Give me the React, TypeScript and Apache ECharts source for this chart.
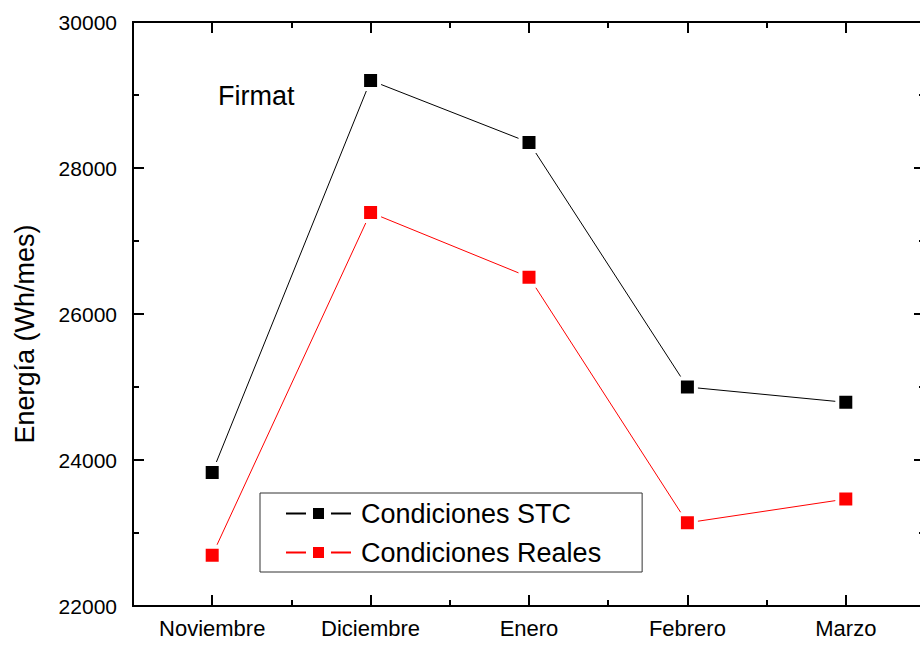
import React, { useEffect, useRef } from "react";
import * as echarts from "echarts";

const categories = ["Noviembre", "Diciembre", "Enero", "Febrero", "Marzo"];
const stcValues = [23830, 29200, 28350, 25000, 24790];
const realesValues = [22695, 27390, 26505, 23140, 23465];
const seriesNames = ["Condiciones STC", "Condiciones Reales"];
const yMin = 22000;
const yMax = 30000;
const yInterval = 2000;

const FONT = "'Liberation Sans', Arial, sans-serif";

export default function App() {
  const ref = useRef<HTMLDivElement>(null);
  useEffect(() => {
    if (!ref.current) return;
    const chart = echarts.init(ref.current, null, { renderer: "svg" });
    const axisLine = { show: true, lineStyle: { color: "#000", width: 2 } };
    const majorTick = { show: true, inside: true, length: 11, alignWithLabel: true, lineStyle: { color: "#000", width: 2 } };
    const minorCatTick = { show: true, inside: true, length: 6, alignWithLabel: false, lineStyle: { color: "#000", width: 2 } };
    const yAxisBase = {
      type: "value",
      min: yMin,
      max: yMax,
      interval: yInterval,
      axisLine,
      axisTick: { show: true, inside: true, length: 11, lineStyle: { color: "#000", width: 2 } },
      minorTick: { show: true, splitNumber: 2, length: 6, lineStyle: { color: "#000", width: 2 } },
      splitLine: { show: false },
      minorSplitLine: { show: false },
    };
    const markerStyle = (color: string) => ({ color, borderColor: "#fff", borderWidth: 4 });
    chart.setOption({
      animation: false,
      backgroundColor: "#fff",
      textStyle: { fontFamily: FONT },
      title: {
        text: "Firmat",
        left: 218,
        top: 82,
        padding: 0,
        textStyle: { fontFamily: FONT, fontSize: 27, fontWeight: "normal", color: "#000" },
      },
      grid: { left: 133, top: 22, width: 792, height: 584, containLabel: false },
      legend: {
        orient: "vertical",
        left: 260,
        top: 493,
        padding: [7, 41, 6, 25],
        itemWidth: 65,
        itemHeight: 22.5,
        itemGap: 12,
        borderColor: "#333",
        borderWidth: 1,
        backgroundColor: "#fff",
        itemStyle: { borderColor: "#fff", borderWidth: 7 },
        textStyle: { fontFamily: FONT, fontSize: 27, color: "#000", lineHeight: 25, padding: [0, 0, 0, 5] },
        data: seriesNames,
      },
      xAxis: [
        {
          type: "category",
          data: categories,
          position: "bottom",
          boundaryGap: true,
          axisLine,
          axisTick: majorTick,
          axisLabel: { fontFamily: FONT, fontSize: 22, color: "#000", margin: 11, interval: 0 },
          splitLine: { show: false },
        },
        {
          type: "category",
          data: categories,
          position: "bottom",
          boundaryGap: true,
          axisLine,
          axisTick: minorCatTick,
          axisLabel: { show: false },
          splitLine: { show: false },
        },
        {
          type: "category",
          data: categories,
          position: "top",
          boundaryGap: true,
          axisLine,
          axisTick: majorTick,
          axisLabel: { show: false },
          splitLine: { show: false },
        },
        {
          type: "category",
          data: categories,
          position: "top",
          boundaryGap: true,
          axisLine,
          axisTick: minorCatTick,
          axisLabel: { show: false },
          splitLine: { show: false },
        },
      ],
      yAxis: [
        {
          ...yAxisBase,
          position: "left",
          name: "Energía (Wh/mes)",
          nameLocation: "middle",
          nameRotate: 90,
          nameGap: 95,
          nameTextStyle: { fontFamily: FONT, fontSize: 27, color: "#000", padding: [0, 40, 0, 0] },
          axisLabel: {
            fontFamily: FONT,
            fontSize: 21,
            color: "#000",
            margin: 16,
            formatter: (v: number) => String(v),
          },
        },
        {
          ...yAxisBase,
          position: "right",
          axisLabel: { show: false },
        },
      ],
      series: [
        {
          name: seriesNames[0],
          type: "line",
          xAxisIndex: 0,
          yAxisIndex: 0,
          data: stcValues,
          symbol: "rect",
          symbolSize: 17,
          lineStyle: { color: "#000", width: 1 },
          itemStyle: markerStyle("#000"),
          z: 3,
        },
        {
          name: seriesNames[1],
          type: "line",
          xAxisIndex: 0,
          yAxisIndex: 0,
          data: realesValues,
          symbol: "rect",
          symbolSize: 17,
          lineStyle: { color: "#ff0000", width: 1 },
          itemStyle: markerStyle("#ff0000"),
          z: 2,
        },
      ],
    });
    return () => chart.dispose();
  }, []);
  return (
    <div
      ref={ref}
      style={{ position: "fixed", left: 0, top: 0, width: 940, height: 645, background: "#fff" }}
    />
  );
}
